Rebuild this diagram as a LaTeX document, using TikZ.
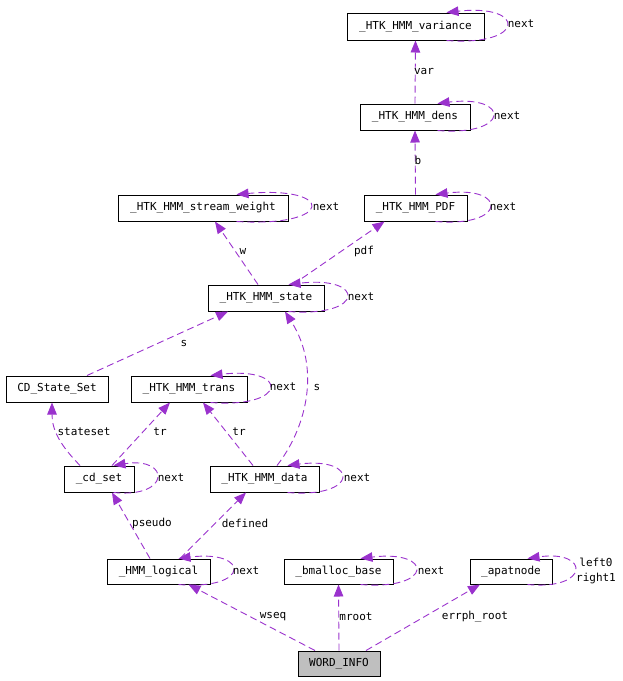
\documentclass[tikz,border=0pt]{standalone}
\usepackage{fontspec}
\newfontfamily\dvm{DejaVu Sans Mono}
\usetikzlibrary{arrows.meta}
\definecolor{edgec}{HTML}{9A32CD}
\definecolor{grayfill}{HTML}{BFBFBF}
\tikzset{
  box/.style={draw=black,line width=1pt,fill=white,inner sep=0pt,minimum height=26pt,font=\dvm\fontsize{11}{13}\selectfont},
  edge/.style={draw=edgec,line width=0.9pt,dash pattern=on 7pt off 4pt,-{Triangle[length=12pt,width=9.5pt,fill=edgec]}},
  lbl/.style={inner sep=0pt,font=\dvm\fontsize{11}{13}\selectfont,text=black}
}
\newcommand\nextloop[2]{%
  \pgfmathsetmacro\lc{(22-0.25*(#2))/0.75}%
  \draw[edge] ([xshift=#2pt]#1.south east) .. controls ([xshift=\lc pt,yshift=-6pt]#1.south east) and ([xshift=\lc pt,yshift=9pt]#1.north east) .. ([xshift=#2pt]#1.north east);}
\begin{document}
\begin{tikzpicture}[x=1pt,y=-1pt]
\useasboundingbox (0,0) rectangle (623,681);
% nodes
\node[box,minimum width=137pt,minimum height=27pt] (var) at (415.5,26.5) {\_HTK\_HMM\_variance};
\node[box,minimum width=110pt] (dens) at (415,117) {\_HTK\_HMM\_dens};
\node[box,minimum width=170pt] (sw) at (203,208) {\_HTK\_HMM\_stream\_weight};
\node[box,minimum width=103pt] (pdf) at (415.5,208) {\_HTK\_HMM\_PDF};
\node[box,minimum width=116pt] (state) at (266,298) {\_HTK\_HMM\_state};
\node[box,minimum width=102pt] (cdss) at (57,389) {CD\_State\_Set};
\node[box,minimum width=116pt] (trans) at (189,389) {\_HTK\_HMM\_trans};
\node[box,minimum width=70pt] (cdset) at (99,479) {\_cd\_set};
\node[box,minimum width=109pt] (data) at (264.5,479) {\_HTK\_HMM\_data};
\node[box,minimum width=103pt,minimum height=25pt] (logical) at (158.5,571.5) {\_HMM\_logical};
\node[box,minimum width=109pt,minimum height=25pt] (bm) at (338.5,571.5) {\_bmalloc\_base};
\node[box,minimum width=82pt,minimum height=25pt] (apat) at (511,571.5) {\_apatnode};
\node[box,minimum width=82pt,minimum height=25pt,fill=grayfill] (wi) at (339,663.5) {WORD\_INFO};
% edges
\draw[edge] (dens.north) -- (var.south);
\draw[edge] (pdf.north) -- (dens.south);
\draw[edge] ([xshift=-8pt]state.north) -- ([xshift=12pt]sw.south);
\draw[edge] ([xshift=27pt]state.north) -- ([xshift=-31pt]pdf.south);
\draw[edge] ([xshift=30pt]cdss.north) -- ([xshift=-38pt]state.south);
\draw[edge] ([xshift=-19pt]cdset.north) .. controls (60,445) and (52,430) .. ([xshift=-5pt]cdss.south);
\draw[edge] ([xshift=13pt]cdset.north) -- ([xshift=-19pt]trans.south);
\draw[edge] ([xshift=-11.5pt]data.north) -- ([xshift=14pt]trans.south);
\draw[edge] ([xshift=12.5pt]data.north) .. controls (305,430) and (322,370) .. ([xshift=19pt]state.south);
\draw[edge] ([xshift=-8.5pt]logical.north) -- ([xshift=13pt]cdset.south);
\draw[edge] ([xshift=21.5pt]logical.north) -- ([xshift=-18.5pt]data.south);
\draw[edge] ([xshift=-24pt]wi.north) -- ([xshift=30pt]logical.south);
\draw[edge] (wi.north) -- (bm.south);
\draw[edge] ([xshift=27pt]wi.north) -- ([xshift=-31pt]apat.south);
% self loops
\nextloop{var}{-38}
\nextloop{dens}{-33}
\nextloop{sw}{-52}
\nextloop{pdf}{-32}
\nextloop{state}{-36}
\nextloop{trans}{-37}
\nextloop{cdset}{-21}
\nextloop{data}{-32}
\nextloop{logical}{-32}
\nextloop{bm}{-33}
\nextloop{apat}{-25}
% labels
\node[lbl] (l1) at (424,71) {var};
\node[lbl] (l2) at (418,160) {b};
\node[lbl] (l3) at (243,251) {w};
\node[lbl] (l4) at (364,251) {pdf};
\node[lbl] (l5) at (184,343) {s};
\node[lbl] (l6) at (84,432) {stateset};
\node[lbl] (l7) at (160,432) {tr};
\node[lbl] (l8) at (239,432) {tr};
\node[lbl] (l9) at (317,387) {s};
\node[lbl] (l10) at (152,523) {pseudo};
\node[lbl] (l11) at (245,523) {defined};
\node[lbl] (l12) at (273,617) {wseq};
\node[lbl] (l13) at (356,617) {mroot};
\node[lbl] (l14) at (475,617) {errph\_root};
\node[lbl] (n1) at (521,24) {next};
\node[lbl] (n2) at (507,116) {next};
\node[lbl] (n3) at (326,207) {next};
\node[lbl] (n4) at (503,207) {next};
\node[lbl] (n5) at (361,297) {next};
\node[lbl] (n6) at (283,387) {next};
\node[lbl] (n7) at (171,478) {next};
\node[lbl] (n8) at (357,478) {next};
\node[lbl] (n9) at (246,571) {next};
\node[lbl] (n10) at (431,571) {next};
\node[lbl,align=center] (n11) at (596,571) {left0\\[2pt]right1};
\end{tikzpicture}
\end{document}
